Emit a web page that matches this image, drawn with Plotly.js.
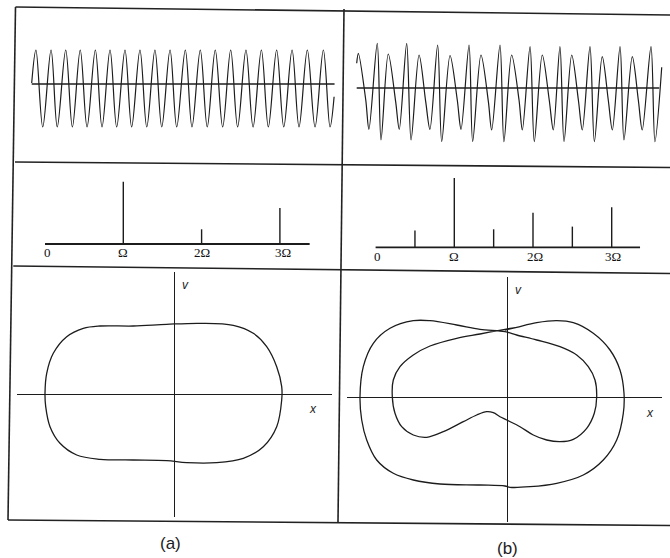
<!DOCTYPE html>
<html>
<head>
<meta charset="utf-8">
<script src="https://cdn.plot.ly/plotly-3.0.1.min.js"></script>
<style>
  html, body { margin: 0; padding: 0; background: #fff; }
  #chart { width: 670px; height: 558px; }
</style>
</head>
<body>
<div id="chart"></div>
<script>
// ---- time signals (time in periods of the drive, amplitude in arbitrary units) ----
// (a) period-1 response: successive maxima and minima
const waveA_t = [0, 0.28, 0.73, 1.28, 1.69, 2.25, 2.69, 3.21, 3.66, 4.21, 4.65, 5.18, 5.62,
  6.17, 6.61, 7.16, 7.61, 8.15, 8.60, 9.15, 9.59, 10.16, 10.60, 11.15, 11.61, 12.14, 12.63,
  13.16, 13.62, 14.17, 14.64, 15.19, 15.65, 16.20, 16.67, 17.22, 17.68, 18.23, 18.74,
  19.29, 19.73, 20.0];
const waveA_y = [0.1, 3.4, -4.3, 3.4, -4.3, 3.4, -4.3, 3.4, -4.3, 3.4, -4.3, 3.4, -4.3,
  3.4, -4.3, 3.4, -4.3, 3.4, -4.3, 3.4, -4.3, 3.4, -4.3, 3.4, -4.3, 3.4, -4.3,
  3.4, -4.3, 3.4, -4.3, 3.4, -4.3, 3.4, -4.3, 3.4, -4.3, 3.4, -4.3,
  3.4, -4.3, -1.27];
const waveA_end = 20.03;

// (b) period-2 response: small peak, shoulder, shallow trough, tall peak, deep trough
const waveB_t = [0, 0.11, 0.60, 0.81, 1.36, 1.61,
  2.09, 2.58, 2.82, 3.31, 3.60,
  4.13, 4.57, 4.85, 5.36, 5.63,
  6.18, 6.66, 6.91, 7.44, 7.68,
  8.23, 8.72, 8.94, 9.49, 9.75,
  10.26, 10.75, 10.97, 11.48, 11.76,
  12.29, 12.75, 13.02, 13.46, 13.73,
  14.24, 14.68, 14.94, 15.45, 15.74,
  16.26, 16.66, 16.93, 17.44, 17.70,
  18.25, 18.65, 18.91, 19.49, 19.75,
  20.2];
const waveB_y = [2.47, 3.47, -1.2, -4.13, 4.47, -5.2,
  3.4, -1.37, -4.13, 4.47, -5.2,
  3.3, -1.37, -4.13, 4.3, -5.37,
  3.25, -1.2, -4.13, 4.3, -5.37,
  3.3, -1.37, -4.2, 4.3, -5.37,
  3.3, -1.2, -4.2, 4.13, -5.37,
  3.3, -1.2, -4.2, 4.13, -5.37,
  3.3, -1.2, -4.2, 4.13, -5.37,
  3.13, -1.2, -4.2, 4.13, -5.2,
  3.13, -1.2, -4.2, 4.13, -5.37,
  2.07];
const waveB_end = 20.04;

// ---- spectra (frequency in units of Ω) ----
const specA_freq = [1, 2, 3];
const specA_amp = [6.23, 1.47, 3.6];
const specA_end = 3.38;
const specB_freq = [0.5, 1, 1.5, 2, 2.5, 3];
const specB_amp = [1.69, 6.94, 1.8, 3.45, 2.07, 4.0];
const specB_end = 3.36;
const spec_tickVals = [0, 1, 2, 3];
const spec_tickText = ['0', 'Ω', '2Ω', '3Ω'];

// ---- phase portraits (x, v) ----
const phaseA_x = [-7.4, -4.07, -0.73, 2.6, 5.93, 7.93, 9.27, 10.27, 10.77, 10.77, 10.27, 8.93,
  6.93, 4.27, 1.27, -0.73, -4.07, -7.4, -9.73, -11.4, -12.4, -12.83, -12.9, -12.73, -12.07,
  -10.73, -9.07, -7.4];
const phaseA_v = [6.85, 6.85, 7.02, 7.12, 6.92, 6.12, 4.78, 2.78, 0.78, -0.55, -3.22, -5.22,
  -6.38, -6.82, -6.82, -6.62, -6.55, -6.48, -6.05, -4.88, -3.22, -1.22, 0.12, 2.12, 4.12,
  5.78, 6.62, 6.85];

const phaseB_x = [-0.2, 0.97, 2.97, 4.97, 6.63, 8.63, 10.3, 11.3, 11.7, 11.63, 10.97, 9.63,
  7.63, 4.97, 2.3, 0.3, -0.2, -2.7, -6.7, -9.37, -11.37, -13.03, -14.03, -14.53, -14.7,
  -14.37, -13.37, -11.7, -9.37, -7.7, -5.03, -2.7, -0.2,
  0.97, 2.97, 5.3, 6.97, 8.13, 8.8, 8.97, 8.73, 7.97, 6.63, 5.3, 3.97, 2.63, 1.3, -0.03,
  -0.7, -1.37, -2.03, -3.03, -4.37, -6.37, -8.03, -9.37, -10.53, -11.2, -11.47, -11.37,
  -10.7, -9.37, -7.7, -5.03, -2.7, -0.2, 0.97];
const phaseB_v = [6.75, 7.02, 7.48, 7.68, 7.48, 6.42, 4.75, 2.75, 0.42, -1.58, -4.25, -6.25,
  -7.75, -8.58, -8.92, -8.98, -8.85, -8.75, -8.65, -8.25, -7.58, -6.25, -4.25, -2.25, 0.08,
  3.08, 5.42, 6.92, 7.68, 7.68, 7.25, 6.82, 6.58,
  6.25, 5.75, 5.08, 4.25, 3.08, 1.75, 0.08, -1.58, -3.08, -4.18, -4.42, -4.25, -3.75, -2.92,
  -2.25, -1.92, -1.52, -1.42, -1.75, -2.42, -3.42, -3.98, -3.75, -2.92, -1.58, 0.08, 1.75,
  3.08, 4.25, 5.15, 5.92, 6.35, 6.82, 7.02];

// ---- layout helpers: place a subplot by its pixel box, origin and scale ----
const W = 670, H = 558;
const base = { showgrid: false, zeroline: false, showticklabels: false, ticks: '',
  showline: false, fixedrange: true };
function xAx(p0, p1, origin, ppu, extra) {
  return Object.assign({}, base, { domain: [p0 / W, p1 / W],
    range: [(p0 - origin) / ppu, (p1 - origin) / ppu] }, extra || {});
}
function yAx(p0, p1, origin, ppu, extra) {
  return Object.assign({}, base, { domain: [1 - p1 / H, 1 - p0 / H],
    range: [(origin - p1) / ppu, (origin - p0) / ppu] }, extra || {});
}
function stems(freq, amp) {
  const x = [], y = [];
  freq.forEach((f, i) => { x.push(f, f, null); y.push(0, amp[i], null); });
  return { x, y };
}

const ink = '#1c1c1c';
const traces = [];

// time signals
traces.push({ x: [0, waveA_end], y: [0, 0], xaxis: 'x', yaxis: 'y', mode: 'lines',
  line: { color: ink, width: 1.5 }, hoverinfo: 'skip' });
traces.push({ x: waveA_t, y: waveA_y, xaxis: 'x', yaxis: 'y', mode: 'lines',
  line: { color: ink, width: 1.2, shape: 'spline', smoothing: 1 }, hoverinfo: 'skip' });
traces.push({ x: [0, waveB_end], y: [0, 0], xaxis: 'x2', yaxis: 'y2', mode: 'lines',
  line: { color: ink, width: 1.5 }, hoverinfo: 'skip' });
traces.push({ x: waveB_t, y: waveB_y, xaxis: 'x2', yaxis: 'y2', mode: 'lines',
  line: { color: ink, width: 1.2, shape: 'spline', smoothing: 0.9 }, hoverinfo: 'skip' });

// spectra
const sA = stems(specA_freq, specA_amp), sB = stems(specB_freq, specB_amp);
traces.push({ x: [0, specA_end], y: [0, 0], xaxis: 'x3', yaxis: 'y3', mode: 'lines',
  line: { color: ink, width: 1.8 }, hoverinfo: 'skip' });
traces.push({ x: sA.x, y: sA.y, xaxis: 'x3', yaxis: 'y3', mode: 'lines',
  line: { color: ink, width: 1.4 }, hoverinfo: 'skip' });
traces.push({ x: [0, specB_end], y: [0, 0], xaxis: 'x4', yaxis: 'y4', mode: 'lines',
  line: { color: ink, width: 1.8 }, hoverinfo: 'skip' });
traces.push({ x: sB.x, y: sB.y, xaxis: 'x4', yaxis: 'y4', mode: 'lines',
  line: { color: ink, width: 1.4 }, hoverinfo: 'skip' });

// phase portraits
traces.push({ x: phaseA_x, y: phaseA_v, xaxis: 'x5', yaxis: 'y5', mode: 'lines',
  line: { color: ink, width: 1.3, shape: 'spline', smoothing: 1 }, hoverinfo: 'skip' });
traces.push({ x: phaseB_x, y: phaseB_v, xaxis: 'x6', yaxis: 'y6', mode: 'lines',
  line: { color: ink, width: 1.3, shape: 'spline', smoothing: 1 }, hoverinfo: 'skip' });

const zl = { zeroline: true, zerolinecolor: ink, zerolinewidth: 1 };

// panel frame lines (the printed figure sits at a slight angle)
const frameLines = [
  [15.5, 7, 670, 15], [15, 162, 670, 167.5], [13.3, 266, 670, 273.5],
  [8, 520, 670, 525.5], [15.5, 7, 8, 520], [344, 9, 338, 522]
];
const shapes = frameLines.map(([x0, y0, x1, y1]) => ({
  type: 'line', xref: 'paper', yref: 'paper',
  x0: x0 / W, y0: 1 - y0 / H, x1: x1 / W, y1: 1 - y1 / H,
  line: { color: '#222', width: 1.6 }
}));

const serif = { family: 'Liberation Serif, DejaVu Serif, serif', size: 13, color: '#111' };
const annotations = [];
const shiftA = [2, 0, 0, 3], shiftB = [2, 0, 2, 1];
spec_tickVals.forEach((v, i) => {
  annotations.push({ x: v, y: -0.9, xref: 'x3', yref: 'y3', text: spec_tickText[i],
    showarrow: false, font: serif, xanchor: 'center', yanchor: 'middle', xshift: shiftA[i] });
  annotations.push({ x: v, y: -0.87, xref: 'x4', yref: 'y4', text: spec_tickText[i],
    showarrow: false, font: serif, xanchor: 'center', yanchor: 'middle', xshift: shiftB[i] });
});
const ital = { family: 'Liberation Sans, Arial, sans-serif', size: 12, color: ink };
annotations.push({ x: 1.1, y: 10.95, xref: 'x5', yref: 'y5', text: '<i>v</i>', showarrow: false, font: ital });
annotations.push({ x: 13.9, y: -1.48, xref: 'x5', yref: 'y5', text: '<i>x</i>', showarrow: false, font: ital });
annotations.push({ x: 1.13, y: 10.75, xref: 'x6', yref: 'y6', text: '<i>v</i>', showarrow: false, font: ital });
annotations.push({ x: 14.3, y: -1.58, xref: 'x6', yref: 'y6', text: '<i>x</i>', showarrow: false, font: ital });
const capFont = { family: 'Liberation Sans, Arial, sans-serif', size: 17, color: ink };
annotations.push({ x: 170 / W, y: 1 - 543 / H, xref: 'paper', yref: 'paper', text: '(a)',
  showarrow: false, font: capFont, xanchor: 'center', yanchor: 'middle' });
annotations.push({ x: 507 / W, y: 1 - 548 / H, xref: 'paper', yref: 'paper', text: '(b)',
  showarrow: false, font: capFont, xanchor: 'center', yanchor: 'middle' });

const layout = {
  width: W, height: H, margin: { l: 0, r: 0, t: 0, b: 0 },
  paper_bgcolor: '#fff', plot_bgcolor: 'rgba(0,0,0,0)', showlegend: false,
  xaxis:  xAx(18, 340, 31.7, 15.12, { anchor: 'y' }),
  yaxis:  yAx(12, 158, 84, 10, { anchor: 'x' }),
  xaxis2: xAx(346, 666, 356.7, 15.1, { anchor: 'y2' }),
  yaxis2: yAx(14, 162, 88, 10, { anchor: 'x2' }),
  xaxis3: xAx(20, 338, 45, 78.3, { anchor: 'y3' }),
  yaxis3: yAx(168, 262, 244, 10, { anchor: 'x3' }),
  xaxis4: xAx(348, 666, 375.6, 78.7, { anchor: 'y4' }),
  yaxis4: yAx(172, 264, 247.3, 10, { anchor: 'x4' }),
  xaxis5: xAx(16.7, 331.7, 174, 10, Object.assign({ anchor: 'y5' }, zl)),
  yaxis5: yAx(271.7, 516.7, 394.5, 10, Object.assign({ anchor: 'x5' }, zl)),
  xaxis6: xAx(346.7, 661.7, 507, 10, Object.assign({ anchor: 'y6' }, zl)),
  yaxis6: yAx(276.7, 521.7, 397.5, 10, Object.assign({ anchor: 'x6' }, zl)),
  shapes, annotations
};

Plotly.newPlot('chart', traces, layout, { displayModeBar: false, staticPlot: true });
</script>
</body>
</html>
